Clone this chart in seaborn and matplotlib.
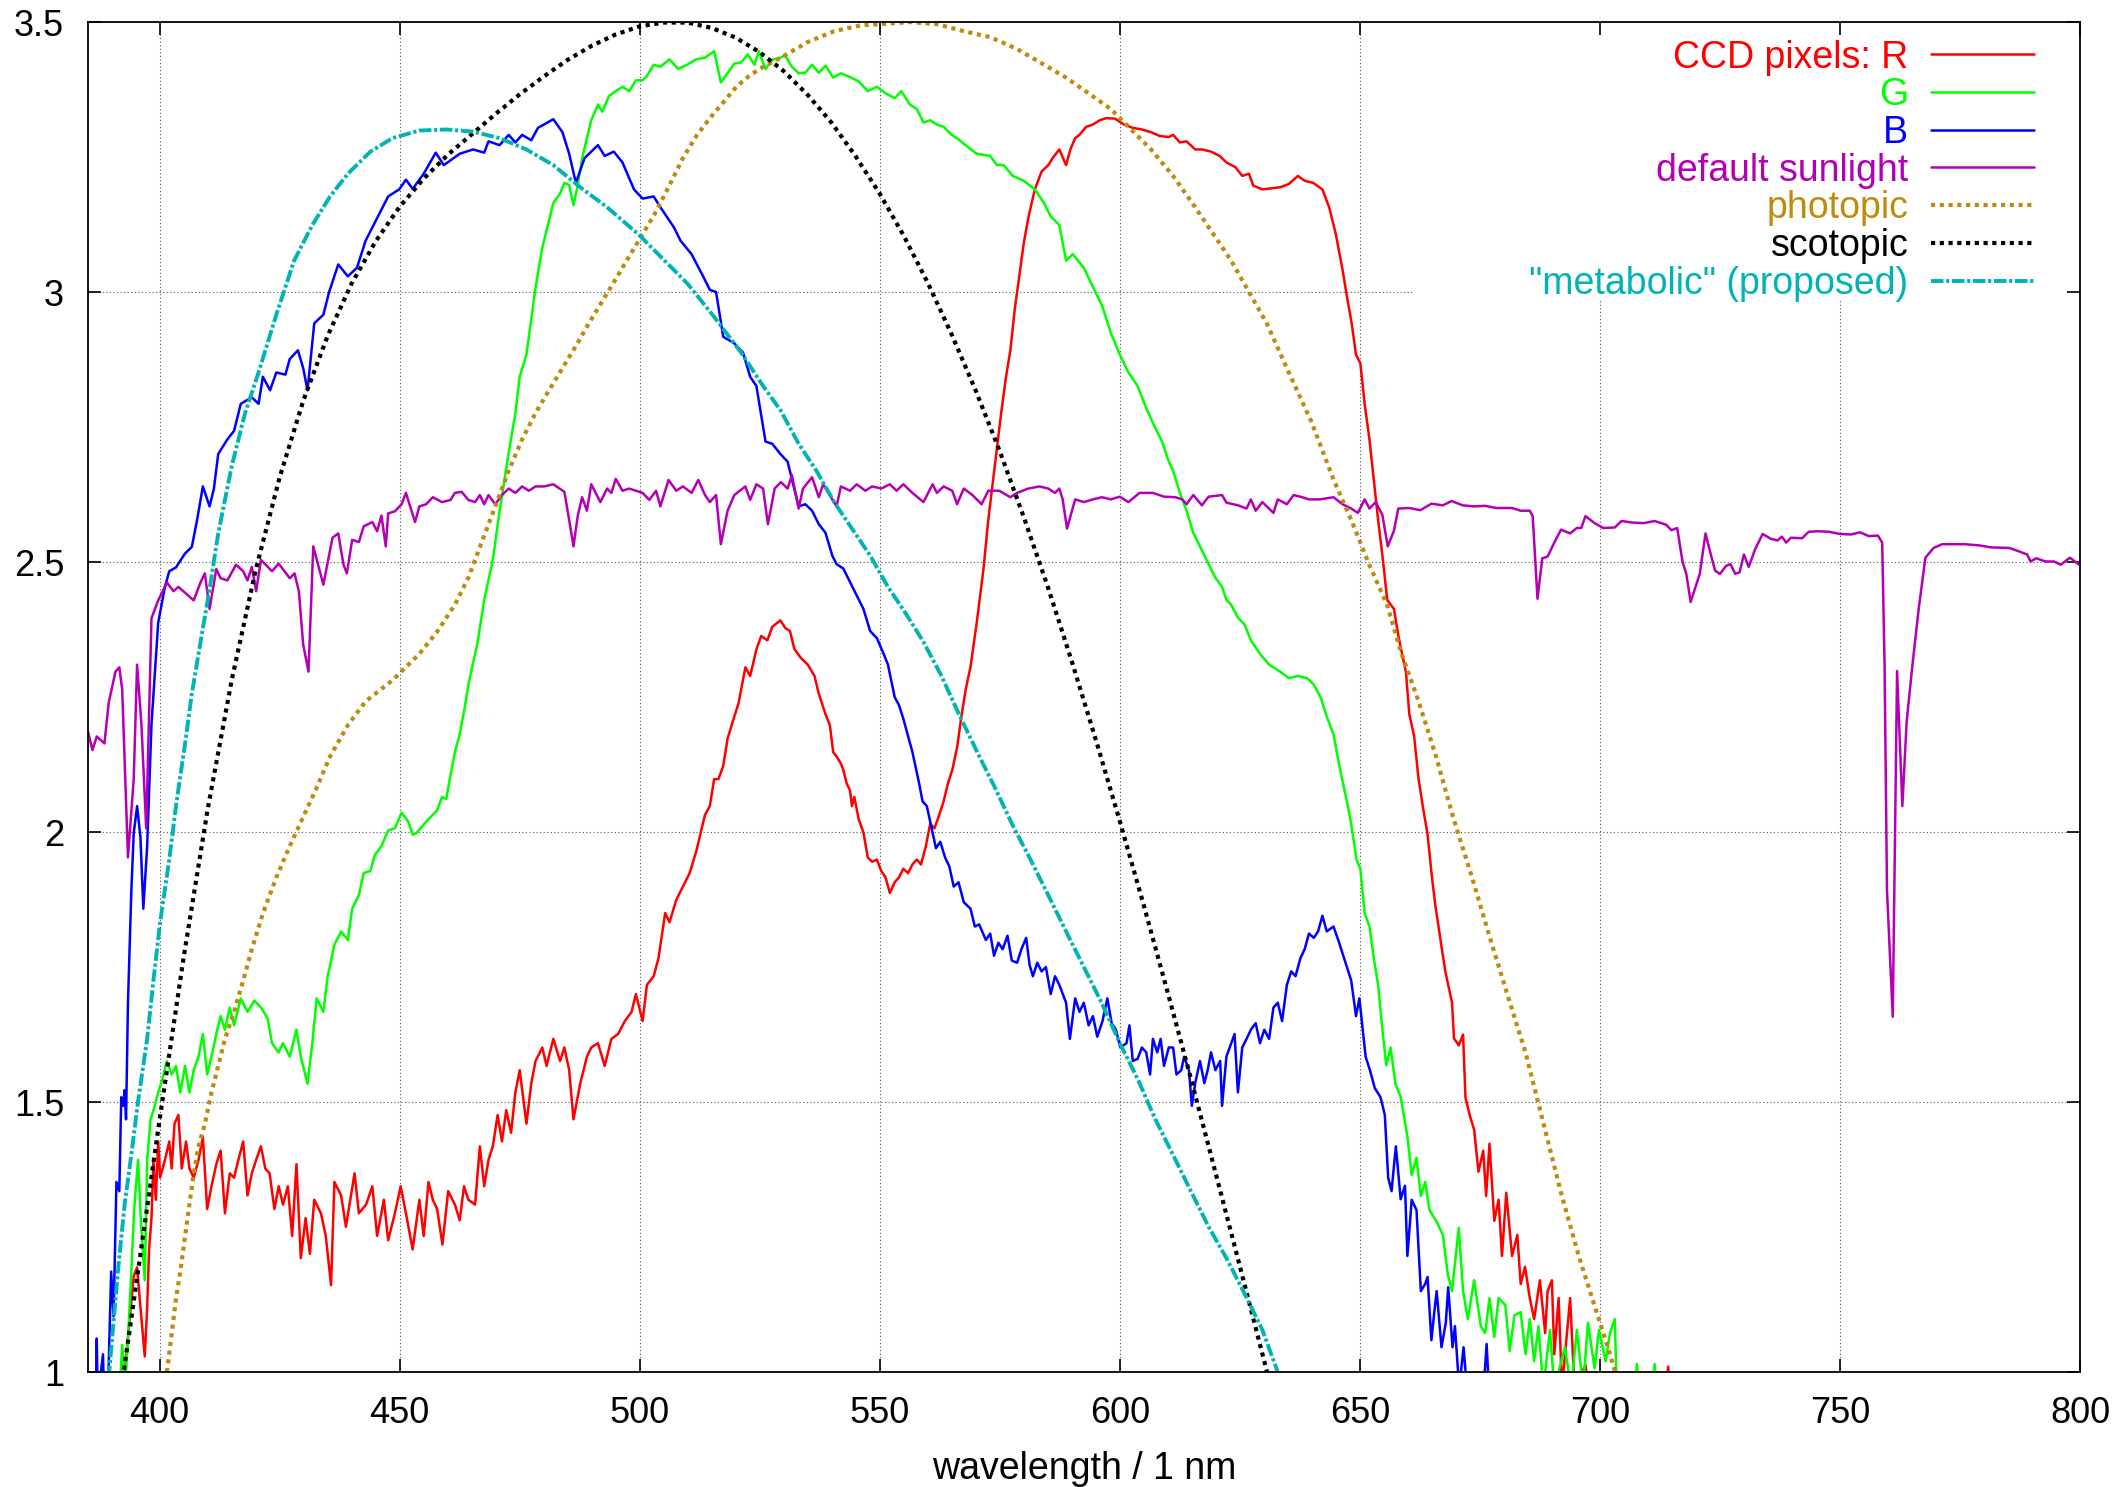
import pandas as pd
import matplotlib
matplotlib.use("Agg")
import matplotlib.pyplot as plt
import seaborn as sns

# (wavelength nm, value)
red_pts = [
    (392.2, 0.95), (393.2, 1.045), (393.8, 1.103), (394.6, 1.178), (395.3, 1.194), (396.0, 1.12),
    (396.9, 1.029), (397.4, 1.12), (397.8, 1.227), (398.3, 1.285), (398.7, 1.393), (399.2, 1.319),
    (399.7, 1.427), (400.1, 1.36), (401.1, 1.393), (402.0, 1.427), (402.5, 1.377), (403.1, 1.46),
    (403.9, 1.476), (404.6, 1.377), (405.5, 1.427), (406.2, 1.377), (407.1, 1.36), (408.1, 1.393),
    (409.0, 1.435), (409.9, 1.302), (410.8, 1.344), (411.8, 1.385), (412.7, 1.41), (413.6, 1.294),
    (414.6, 1.368), (415.5, 1.36), (416.4, 1.393), (417.4, 1.427), (418.3, 1.327), (419.2, 1.368),
    (420.1, 1.393), (421.1, 1.418), (422.0, 1.377), (422.9, 1.368), (423.9, 1.302), (424.8, 1.344),
    (425.7, 1.31), (426.7, 1.344), (427.6, 1.252), (428.5, 1.385), (429.4, 1.211), (430.4, 1.285),
    (431.3, 1.219), (432.2, 1.319), (433.6, 1.294), (434.6, 1.252), (435.7, 1.161), (436.4, 1.352),
    (437.8, 1.327), (438.8, 1.269), (439.7, 1.319), (440.6, 1.368), (441.5, 1.294), (443.0, 1.31),
    (444.3, 1.344), (445.3, 1.252), (446.7, 1.319), (447.6, 1.244), (449.0, 1.294), (450.2, 1.344),
    (451.3, 1.294), (452.7, 1.227), (454.1, 1.319), (455.0, 1.252), (456.0, 1.352), (456.9, 1.319),
    (457.8, 1.302), (458.9, 1.236), (460.1, 1.335), (461.5, 1.31), (462.5, 1.281), (463.4, 1.344),
    (464.3, 1.319), (465.7, 1.31), (466.7, 1.418), (467.6, 1.344), (468.5, 1.393), (469.4, 1.418),
    (470.4, 1.476), (471.3, 1.427), (472.2, 1.485), (473.2, 1.443), (474.1, 1.518), (475.0, 1.559),
    (476.4, 1.46), (477.4, 1.534), (478.3, 1.576), (479.7, 1.601), (480.6, 1.567), (482.0, 1.617),
    (483.4, 1.576), (484.3, 1.601), (485.3, 1.559), (486.2, 1.468), (487.6, 1.534), (489.0, 1.584),
    (489.9, 1.601), (491.3, 1.609), (492.7, 1.567), (494.1, 1.617), (495.5, 1.626), (496.9, 1.65),
    (498.3, 1.667), (499.2, 1.7), (500.6, 1.65), (501.5, 1.717), (502.9, 1.733), (503.9, 1.766),
    (505.3, 1.85), (506.2, 1.833), (507.6, 1.874), (509.0, 1.899), (510.4, 1.924), (511.8, 1.965),
    (512.7, 1.999), (513.6, 2.032), (514.6, 2.048), (515.5, 2.098), (516.4, 2.098), (517.4, 2.123),
    (518.3, 2.173), (519.7, 2.214), (520.6, 2.239), (522.0, 2.305), (523.0, 2.289), (524.3, 2.338),
    (525.3, 2.363), (526.6, 2.355), (527.6, 2.38), (529.3, 2.392), (530.3, 2.378), (531.3, 2.372),
    (532.2, 2.339), (533.6, 2.322), (535.0, 2.31), (536.4, 2.289), (537.3, 2.256), (538.7, 2.218),
    (539.6, 2.198), (540.3, 2.148), (541.0, 2.14), (541.9, 2.127), (542.4, 2.115), (543.1, 2.09),
    (543.8, 2.077), (544.2, 2.048), (544.7, 2.065), (545.6, 2.024), (546.6, 1.999), (547.5, 1.953),
    (548.4, 1.945), (549.4, 1.949), (550.3, 1.928), (551.2, 1.916), (552.1, 1.887), (553.1, 1.907),
    (554.0, 1.916), (554.9, 1.932), (555.9, 1.924), (556.8, 1.94), (557.7, 1.949), (558.6, 1.94),
    (559.6, 1.974), (560.5, 2.015), (561.4, 2.007), (562.4, 2.032), (563.3, 2.057), (564.2, 2.09),
    (565.1, 2.115), (566.1, 2.156), (567.0, 2.214), (567.9, 2.264), (568.9, 2.306), (570.2, 2.388),
    (571.6, 2.487), (572.6, 2.578), (573.5, 2.644), (574.4, 2.71), (575.3, 2.777), (576.3, 2.843),
    (577.2, 2.892), (578.1, 2.967), (579.1, 3.033), (580.0, 3.091), (581.0, 3.14), (582.3, 3.19),
    (583.7, 3.223), (585.1, 3.235), (586.0, 3.248), (587.4, 3.264), (588.8, 3.235), (589.7, 3.264),
    (590.7, 3.285), (591.6, 3.291), (593.0, 3.306), (594.4, 3.31), (595.8, 3.318), (597.2, 3.322),
    (599.0, 3.321), (600.9, 3.31), (602.7, 3.304), (604.6, 3.301), (606.5, 3.296), (608.3, 3.289),
    (610.2, 3.287), (611.1, 3.291), (612.5, 3.277), (613.9, 3.279), (615.7, 3.264), (617.1, 3.264),
    (619.0, 3.26), (620.8, 3.252), (622.2, 3.24), (624.1, 3.231), (625.5, 3.215), (626.9, 3.219),
    (627.8, 3.197), (629.7, 3.19), (631.5, 3.192), (633.4, 3.194), (635.2, 3.2), (637.1, 3.215),
    (638.5, 3.206), (640.3, 3.202), (642.2, 3.19), (643.6, 3.157), (645.0, 3.107), (646.4, 3.041),
    (647.3, 2.992), (648.3, 2.942), (649.2, 2.884), (650.1, 2.868), (651.0, 2.793), (652.0, 2.727),
    (652.9, 2.653), (653.8, 2.578), (654.7, 2.512), (655.7, 2.43), (657.1, 2.413), (658.0, 2.364),
    (659.0, 2.322), (659.6, 2.296), (660.3, 2.218), (661.3, 2.178), (662.2, 2.10), (663.1, 2.048),
    (664.1, 1.996), (665.0, 1.918), (665.7, 1.866), (666.8, 1.80), (667.8, 1.742), (669.2, 1.684),
    (669.6, 1.618), (670.6, 1.605), (671.5, 1.625), (672.0, 1.508), (672.9, 1.475), (673.8, 1.449),
    (674.7, 1.371), (675.7, 1.41), (676.3, 1.326), (677.0, 1.423), (678.0, 1.28), (678.9, 1.319),
    (679.6, 1.215), (680.5, 1.332), (681.7, 1.215), (682.8, 1.254), (683.5, 1.163), (684.4, 1.195),
    (685.4, 1.137), (686.3, 1.098), (687.5, 1.17), (688.6, 1.072), (689.1, 1.15), (690.0, 1.17),
    (690.5, 1.033), (691.4, 1.137), (692.1, 0.97), (693.8, 1.137), (694.7, 0.97), (697.0, 1.013),
    (698.0, 0.95), (713.6, 0.95), (714.2, 1.01), (714.8, 0.95),
]

green_pts = [
    (391.6, 0.95), (392.2, 1.05), (392.8, 0.97), (393.4, 1.062), (394.1, 1.186), (394.7, 1.302),
    (395.5, 1.393), (396.1, 1.277), (396.9, 1.17), (397.4, 1.393), (398.1, 1.468), (398.7, 1.484),
    (399.7, 1.518), (400.6, 1.543), (401.5, 1.576), (402.5, 1.551), (403.4, 1.567), (404.3, 1.518),
    (405.3, 1.567), (406.2, 1.518), (407.1, 1.559), (408.1, 1.584), (409.0, 1.626), (409.9, 1.551),
    (410.8, 1.584), (411.8, 1.626), (412.7, 1.659), (413.6, 1.634), (414.6, 1.675), (415.5, 1.642),
    (416.9, 1.692), (418.3, 1.667), (419.7, 1.688), (421.1, 1.675), (422.5, 1.655), (423.4, 1.609),
    (424.8, 1.592), (425.7, 1.609), (427.1, 1.584), (428.5, 1.634), (429.4, 1.584), (430.8, 1.534),
    (431.8, 1.609), (432.7, 1.692), (434.1, 1.667), (435.0, 1.733), (436.4, 1.791), (437.8, 1.816),
    (439.2, 1.8), (440.1, 1.858), (441.5, 1.883), (442.5, 1.924), (443.9, 1.928), (444.8, 1.957),
    (446.2, 1.974), (447.6, 2.003), (449.0, 2.007), (450.4, 2.036), (451.8, 2.019), (452.7, 1.995),
    (453.6, 1.999), (455.5, 2.019), (456.9, 2.032), (457.8, 2.04), (458.8, 2.065), (459.7, 2.061),
    (460.6, 2.106), (461.5, 2.148), (462.5, 2.181), (463.4, 2.223), (464.3, 2.272), (465.3, 2.314),
    (466.2, 2.35), (467.6, 2.43), (469.4, 2.504), (470.8, 2.594), (472.7, 2.702), (474.1, 2.776),
    (475.0, 2.843), (476.4, 2.884), (478.3, 3.008), (479.7, 3.082), (481.1, 3.132), (482.0, 3.165),
    (483.4, 3.182), (484.3, 3.202), (485.3, 3.198), (486.2, 3.161), (487.1, 3.198), (488.0, 3.248),
    (489.0, 3.285), (489.9, 3.318), (491.3, 3.347), (492.2, 3.334), (493.6, 3.363), (495.0, 3.372),
    (496.4, 3.38), (497.8, 3.372), (499.2, 3.392), (500.6, 3.392), (501.5, 3.4), (502.9, 3.421),
    (504.3, 3.417), (506.2, 3.431), (508.0, 3.413), (509.9, 3.421), (511.8, 3.431), (513.6, 3.434),
    (515.5, 3.446), (516.9, 3.388), (518.3, 3.405), (519.7, 3.423), (521.1, 3.425), (522.5, 3.44),
    (523.9, 3.421), (524.8, 3.446), (526.2, 3.413), (527.6, 3.43), (529.3, 3.434), (530.3, 3.438),
    (531.7, 3.417), (533.1, 3.405), (534.5, 3.406), (535.9, 3.421), (537.3, 3.406), (538.7, 3.419),
    (540.3, 3.397), (541.9, 3.405), (543.8, 3.398), (545.6, 3.39), (547.5, 3.372), (549.4, 3.38),
    (551.2, 3.368), (553.1, 3.359), (554.5, 3.372), (556.3, 3.347), (557.7, 3.339), (559.1, 3.314),
    (560.5, 3.318), (561.9, 3.31), (563.3, 3.306), (564.7, 3.293), (566.5, 3.282), (568.4, 3.268),
    (570.2, 3.256), (573.0, 3.252), (574.4, 3.235), (575.8, 3.235), (577.7, 3.215), (580.0, 3.206),
    (582.3, 3.19), (584.2, 3.165), (585.6, 3.14), (587.4, 3.124), (588.8, 3.058), (590.2, 3.07),
    (592.5, 3.045), (594.9, 3.0), (596.3, 2.975), (598.1, 2.925), (600.0, 2.884), (601.8, 2.851),
    (603.7, 2.826), (605.5, 2.785), (607.4, 2.748), (608.8, 2.723), (610.2, 2.686), (611.1, 2.669),
    (612.5, 2.628), (613.9, 2.595), (615.3, 2.554), (616.7, 2.529), (618.5, 2.496), (619.9, 2.471),
    (621.3, 2.454), (622.2, 2.43), (623.2, 2.421), (624.6, 2.397), (626.0, 2.384), (627.3, 2.355),
    (629.2, 2.33), (631.1, 2.31), (633.4, 2.297), (635.2, 2.285), (637.1, 2.289), (639.0, 2.285),
    (640.4, 2.273), (641.8, 2.25), (643.1, 2.214), (644.5, 2.181), (645.9, 2.115), (647.3, 2.057),
    (648.2, 2.015), (649.3, 1.949), (650.1, 1.932), (651.0, 1.85), (652.0, 1.825), (652.9, 1.767),
    (653.8, 1.717), (654.7, 1.634), (655.5, 1.568), (656.4, 1.601), (657.4, 1.534), (658.5, 1.51),
    (659.9, 1.436), (660.8, 1.365), (661.8, 1.397), (662.7, 1.326), (663.6, 1.352), (664.5, 1.30),
    (665.9, 1.28), (667.3, 1.254), (668.3, 1.182), (669.2, 1.15), (670.6, 1.267), (671.5, 1.15),
    (672.5, 1.098), (673.8, 1.17), (675.2, 1.085), (676.1, 1.072), (677.0, 1.137), (678.0, 1.065),
    (678.9, 1.137), (680.3, 1.124), (681.2, 1.039), (682.2, 1.105), (683.5, 1.111), (684.5, 1.033),
    (685.4, 1.098), (686.3, 1.02), (687.2, 1.085), (688.2, 0.97), (689.6, 1.078), (690.5, 0.97),
    (692.7, 1.046), (694.0, 0.97), (695.2, 1.078), (696.5, 0.97), (697.5, 1.091), (698.9, 1.007),
    (699.8, 1.078), (701.2, 1.02), (702.1, 1.072), (703.1, 1.098), (703.5, 0.97), (707.2, 0.97),
    (707.7, 1.015), (708.2, 0.97), (711.0, 0.97), (711.4, 1.015), (711.9, 0.97),
]

blue_pts = [
    (386.7, 0.95), (386.9, 1.062), (387.1, 0.95), (388.2, 1.033), (388.4, 0.95), (389.2, 0.95),
    (389.9, 1.186), (390.4, 1.103), (391.0, 1.352), (391.6, 1.335), (392.0, 1.509), (392.4, 1.493),
    (392.7, 1.522), (393.0, 1.468), (393.4, 1.684), (394.1, 1.891), (394.6, 1.998), (395.3, 2.048),
    (396.0, 1.99), (396.6, 1.858), (397.4, 1.974), (398.3, 2.20), (399.7, 2.388), (401.1, 2.454),
    (402.0, 2.483), (403.4, 2.49), (405.3, 2.516), (406.7, 2.528), (407.8, 2.578), (409.0, 2.64),
    (410.4, 2.603), (411.3, 2.636), (412.2, 2.70), (414.1, 2.727), (415.5, 2.743), (416.9, 2.793),
    (419.2, 2.805), (420.6, 2.793), (421.5, 2.843), (423.0, 2.818), (424.3, 2.851), (426.2, 2.847),
    (427.1, 2.876), (428.8, 2.892), (429.9, 2.859), (430.8, 2.818), (432.2, 2.942), (434.1, 2.958),
    (435.3, 3.0), (437.2, 3.051), (439.2, 3.029), (441.1, 3.045), (442.9, 3.095), (444.8, 3.128),
    (447.6, 3.177), (449.9, 3.19), (451.3, 3.208), (452.7, 3.191), (455.0, 3.219), (457.5, 3.258),
    (459.2, 3.235), (462.5, 3.256), (465.3, 3.264), (467.6, 3.258), (468.5, 3.279), (470.8, 3.272),
    (472.7, 3.291), (474.1, 3.277), (475.5, 3.291), (477.4, 3.281), (478.8, 3.304), (482.0, 3.32),
    (483.9, 3.296), (485.3, 3.256), (486.7, 3.202), (488.5, 3.248), (491.3, 3.272), (492.7, 3.252),
    (494.6, 3.26), (496.4, 3.24), (498.8, 3.19), (500.6, 3.173), (502.9, 3.177), (504.3, 3.157),
    (507.1, 3.12), (508.5, 3.095), (510.8, 3.07), (513.2, 3.029), (514.6, 3.004), (515.9, 3.0),
    (517.4, 2.917), (519.7, 2.905), (521.5, 2.888), (523.0, 2.843), (524.3, 2.826), (526.2, 2.723),
    (527.6, 2.719), (529.3, 2.70), (530.8, 2.686), (531.7, 2.653), (533.1, 2.603), (534.5, 2.607),
    (535.9, 2.595), (537.3, 2.57), (538.7, 2.554), (540.1, 2.512), (541.0, 2.496), (542.4, 2.488),
    (543.8, 2.463), (545.2, 2.438), (546.6, 2.413), (548.0, 2.372), (549.4, 2.359), (550.8, 2.33),
    (551.7, 2.31), (553.1, 2.25), (554.0, 2.235), (554.9, 2.21), (555.9, 2.177), (556.8, 2.148),
    (557.7, 2.111), (558.2, 2.09), (558.9, 2.057), (559.8, 2.048), (560.8, 2.007), (561.7, 1.97),
    (562.6, 1.982), (563.6, 1.953), (564.5, 1.936), (565.4, 1.899), (566.4, 1.907), (567.5, 1.87),
    (568.9, 1.858), (569.8, 1.825), (570.7, 1.829), (572.1, 1.8), (573.0, 1.812), (573.8, 1.771),
    (574.7, 1.795), (575.6, 1.783), (576.6, 1.808), (577.5, 1.762), (578.6, 1.758), (579.5, 1.783),
    (580.5, 1.804), (581.2, 1.754), (581.9, 1.733), (582.8, 1.758), (583.7, 1.742), (584.6, 1.75),
    (585.6, 1.7), (586.5, 1.733), (587.4, 1.717), (588.8, 1.684), (589.6, 1.617), (590.7, 1.692),
    (591.6, 1.667), (592.5, 1.684), (593.5, 1.642), (594.4, 1.659), (595.3, 1.621), (596.4, 1.65),
    (597.4, 1.692), (598.3, 1.646), (599.2, 1.634), (600.1, 1.601), (601.4, 1.609), (602.0, 1.642),
    (602.7, 1.576), (603.7, 1.58), (604.6, 1.601), (605.5, 1.592), (606.3, 1.551), (606.9, 1.617),
    (607.8, 1.592), (608.5, 1.617), (609.2, 1.567), (610.2, 1.601), (611.1, 1.601), (611.8, 1.551),
    (612.8, 1.559), (613.4, 1.584), (614.4, 1.559), (615.0, 1.493), (615.7, 1.535), (616.7, 1.576),
    (617.6, 1.535), (618.3, 1.559), (619.0, 1.592), (619.9, 1.559), (620.9, 1.576), (621.3, 1.493),
    (622.2, 1.584), (623.2, 1.609), (623.9, 1.626), (624.6, 1.518), (625.5, 1.601), (626.4, 1.617),
    (627.3, 1.634), (628.3, 1.646), (629.2, 1.609), (630.1, 1.634), (631.1, 1.617), (632.0, 1.675),
    (632.9, 1.684), (633.8, 1.65), (634.8, 1.717), (635.7, 1.742), (636.6, 1.733), (637.6, 1.766),
    (638.5, 1.783), (639.4, 1.812), (640.4, 1.804), (641.3, 1.816), (642.2, 1.845), (643.1, 1.816),
    (644.5, 1.825), (645.5, 1.8), (646.4, 1.775), (647.3, 1.75), (648.2, 1.725), (649.2, 1.659),
    (649.9, 1.692), (650.6, 1.634), (651.2, 1.584), (652.1, 1.559), (653.1, 1.526), (654.3, 1.509),
    (655.2, 1.476), (655.9, 1.36), (656.6, 1.335), (657.5, 1.418), (658.5, 1.32), (659.4, 1.345),
    (659.9, 1.215), (660.8, 1.319), (661.8, 1.30), (662.7, 1.15), (663.6, 1.163), (664.1, 1.176),
    (664.9, 1.059), (665.5, 1.111), (666.0, 1.15), (667.0, 1.046), (667.9, 1.091), (668.4, 1.157),
    (669.3, 1.046), (669.8, 1.085), (670.7, 0.97), (671.6, 1.046), (672.3, 0.97), (675.8, 0.97),
    (676.4, 1.052), (676.9, 0.97),
]

sunlight_pts = [
    (385.1, 2.185), (386.0, 2.152), (386.9, 2.177), (388.5, 2.164), (389.4, 2.24), (390.8, 2.297),
    (391.6, 2.305), (392.2, 2.264), (393.4, 1.953), (394.6, 2.098), (395.3, 2.31), (396.2, 2.20),
    (397.2, 2.007), (398.3, 2.396), (399.7, 2.429), (401.5, 2.462), (402.9, 2.446), (403.9, 2.454),
    (407.1, 2.429), (408.5, 2.462), (409.4, 2.479), (410.4, 2.413), (411.8, 2.487), (412.7, 2.47),
    (414.1, 2.466), (415.9, 2.495), (417.4, 2.483), (418.3, 2.466), (419.2, 2.491), (420.1, 2.446),
    (421.1, 2.504), (423.4, 2.483), (424.8, 2.497), (427.1, 2.47), (428.1, 2.479), (429.0, 2.446),
    (429.9, 2.347), (431.0, 2.297), (432.0, 2.529), (434.1, 2.458), (436.0, 2.545), (437.2, 2.553),
    (438.3, 2.495), (439.0, 2.479), (440.1, 2.541), (441.5, 2.537), (442.5, 2.566), (444.3, 2.574),
    (445.3, 2.557), (446.2, 2.586), (447.1, 2.529), (447.6, 2.59), (449.0, 2.594), (450.4, 2.607),
    (451.3, 2.628), (453.2, 2.574), (454.1, 2.603), (455.5, 2.607), (456.9, 2.62), (458.8, 2.611),
    (460.6, 2.615), (461.5, 2.628), (462.9, 2.63), (464.3, 2.615), (465.7, 2.611), (466.7, 2.624),
    (467.6, 2.607), (468.5, 2.624), (469.9, 2.607), (471.3, 2.624), (472.7, 2.636), (474.1, 2.628),
    (475.5, 2.64), (476.9, 2.632), (478.3, 2.64), (480.1, 2.64), (482.0, 2.644), (484.3, 2.63),
    (485.3, 2.578), (486.2, 2.529), (487.1, 2.586), (488.0, 2.62), (489.0, 2.595), (489.9, 2.644),
    (491.8, 2.611), (493.2, 2.636), (494.1, 2.628), (495.0, 2.654), (496.4, 2.632), (497.8, 2.636),
    (500.6, 2.628), (502.0, 2.615), (503.4, 2.632), (504.3, 2.603), (506.0, 2.652), (507.6, 2.632),
    (509.0, 2.64), (510.8, 2.628), (512.2, 2.652), (513.6, 2.624), (514.6, 2.611), (515.9, 2.624),
    (516.9, 2.533), (518.3, 2.595), (519.7, 2.624), (522.0, 2.64), (523.0, 2.615), (524.3, 2.644),
    (525.7, 2.636), (526.7, 2.57), (528.1, 2.636), (529.4, 2.648), (530.8, 2.636), (531.7, 2.661),
    (533.1, 2.599), (534.0, 2.636), (535.9, 2.657), (537.3, 2.62), (538.2, 2.644), (541.0, 2.603),
    (541.9, 2.64), (543.8, 2.632), (545.2, 2.644), (547.0, 2.632), (548.4, 2.64), (550.3, 2.636),
    (552.1, 2.644), (553.5, 2.632), (554.9, 2.644), (556.8, 2.628), (559.1, 2.611), (561.0, 2.644),
    (561.9, 2.628), (563.3, 2.64), (565.1, 2.632), (566.1, 2.607), (567.5, 2.636), (569.3, 2.624),
    (571.2, 2.607), (572.6, 2.632), (574.9, 2.632), (577.2, 2.62), (578.6, 2.628), (580.9, 2.636),
    (583.3, 2.64), (585.1, 2.636), (586.5, 2.628), (587.4, 2.636), (588.1, 2.616), (589.0, 2.562),
    (590.7, 2.616), (592.5, 2.611), (594.4, 2.616), (596.3, 2.62), (598.1, 2.616), (600.0, 2.621),
    (601.8, 2.611), (604.1, 2.628), (606.9, 2.628), (609.2, 2.621), (611.6, 2.62), (613.0, 2.616),
    (613.9, 2.607), (615.3, 2.624), (617.1, 2.605), (618.5, 2.621), (621.3, 2.624), (622.2, 2.61),
    (624.6, 2.605), (626.4, 2.599), (627.3, 2.616), (628.3, 2.595), (629.7, 2.611), (630.6, 2.603),
    (632.0, 2.591), (632.9, 2.616), (634.8, 2.607), (636.2, 2.624), (637.6, 2.621), (639.4, 2.616),
    (641.7, 2.616), (644.5, 2.62), (646.4, 2.607), (648.2, 2.599), (649.6, 2.591), (651.0, 2.616),
    (652.0, 2.599), (653.3, 2.611), (654.7, 2.587), (655.8, 2.529), (657.1, 2.558), (658.0, 2.599),
    (660.3, 2.60), (662.6, 2.596), (664.9, 2.608), (667.3, 2.605), (669.1, 2.613), (671.4, 2.605),
    (673.8, 2.603), (676.1, 2.604), (678.4, 2.60), (681.7, 2.60), (683.5, 2.595), (685.4, 2.595),
    (686.0, 2.585), (687.0, 2.432), (688.0, 2.507), (689.1, 2.51), (690.5, 2.536), (691.9, 2.56),
    (693.8, 2.553), (695.2, 2.563), (696.1, 2.563), (697.0, 2.585), (698.9, 2.572), (700.7, 2.563),
    (703.1, 2.564), (704.5, 2.576), (706.8, 2.573), (709.1, 2.572), (711.4, 2.576), (713.8, 2.569),
    (714.9, 2.559), (716.1, 2.563), (717.2, 2.501), (718.0, 2.478), (718.9, 2.426), (720.8, 2.478),
    (722.0, 2.553), (723.1, 2.514), (724.0, 2.484), (725.0, 2.478), (726.3, 2.493), (727.2, 2.496),
    (728.2, 2.478), (729.1, 2.481), (730.0, 2.514), (731.0, 2.491), (732.3, 2.523), (733.9, 2.552),
    (735.6, 2.543), (737.0, 2.54), (737.9, 2.547), (738.8, 2.536), (739.8, 2.545), (742.1, 2.544),
    (743.5, 2.556), (745.4, 2.557), (747.7, 2.556), (750.0, 2.552), (752.3, 2.551), (754.2, 2.555),
    (756.0, 2.548), (757.9, 2.549), (758.8, 2.536), (759.3, 2.309), (759.8, 1.892), (761.0, 1.658),
    (761.9, 2.298), (763.0, 2.048), (763.9, 2.205), (765.1, 2.309), (766.4, 2.413), (767.8, 2.508),
    (769.5, 2.526), (771.3, 2.533), (776.0, 2.533), (778.8, 2.531), (781.6, 2.527), (785.3, 2.526),
    (787.2, 2.52), (789.0, 2.514), (789.7, 2.501), (790.9, 2.507), (792.8, 2.501), (794.6, 2.501),
    (796.0, 2.495), (797.9, 2.508), (799.7, 2.496), (800.5, 2.49),
]

photopic_pts = [
    (401.5, 1.0), (402.5, 1.07), (403.4, 1.136), (404.3, 1.186), (405.3, 1.252), (406.2, 1.31),
    (407.1, 1.368), (408.1, 1.418), (409.4, 1.459), (410.8, 1.518), (412.2, 1.567), (413.6, 1.617),
    (415.5, 1.667), (417.4, 1.725), (419.2, 1.783), (421.5, 1.849), (424.3, 1.916), (427.1, 1.974),
    (429.9, 2.028), (432.7, 2.082), (435.5, 2.14), (439.2, 2.198), (442.9, 2.242), (448.5, 2.281),
    (454.1, 2.33), (457.8, 2.371), (461.5, 2.421), (464.3, 2.471), (467.1, 2.537), (469.9, 2.603),
    (472.7, 2.669), (475.5, 2.727), (478.3, 2.776), (481.1, 2.818), (483.9, 2.859), (486.7, 2.9),
    (489.4, 2.942), (492.2, 2.983), (495.0, 3.024), (497.8, 3.066), (500.6, 3.107), (503.4, 3.149),
    (506.2, 3.198), (509.0, 3.248), (511.8, 3.289), (514.6, 3.322), (517.4, 3.351), (520.1, 3.38),
    (522.9, 3.401), (525.7, 3.417), (529.4, 3.434), (535.0, 3.463), (540.5, 3.483), (546.1, 3.494),
    (551.7, 3.497), (556.3, 3.5), (561.9, 3.496), (567.5, 3.483), (573.0, 3.472), (578.6, 3.45),
    (584.2, 3.421), (588.8, 3.397), (593.5, 3.368), (598.1, 3.339), (601.8, 3.306), (606.5, 3.264),
    (611.1, 3.215), (615.7, 3.157), (619.5, 3.107), (623.2, 3.058), (626.9, 3.0), (630.6, 2.942),
    (635.2, 2.851), (639.9, 2.76), (644.5, 2.653), (648.2, 2.578), (651.9, 2.496), (655.7, 2.42),
    (658.5, 2.335), (662.2, 2.243), (665.9, 2.139), (669.6, 2.022), (673.3, 1.918), (677.0, 1.807),
    (680.8, 1.697), (684.5, 1.592), (688.2, 1.462), (691.9, 1.332), (695.6, 1.215), (699.3, 1.111),
    (702.1, 1.033), (703.5, 0.99),
]

scotopic_pts = [
    (390, 0.844), (395, 1.156), (400, 1.468), (405, 1.768), (410, 2.042), (415, 2.281),
    (420, 2.485), (425, 2.657), (430, 2.801), (435, 2.919), (440, 3.016), (445, 3.094),
    (450, 3.158), (455, 3.210), (460, 3.254), (465, 3.292), (470, 3.330), (475, 3.366),
    (480, 3.399), (485, 3.430), (490, 3.456), (495, 3.477), (500, 3.492), (505, 3.499),
    (510, 3.499), (515, 3.489), (520, 3.471), (525, 3.444), (530, 3.409), (535, 3.365),
    (540, 3.313), (545, 3.251), (550, 3.182), (555, 3.104), (560, 3.017), (565, 2.921),
    (570, 2.817), (575, 2.705), (580, 2.583), (585, 2.454), (590, 2.316), (595, 2.171),
    (600, 2.020), (605, 1.864), (610, 1.702), (615, 1.537), (620, 1.367), (625, 1.196),
    (630, 1.023), (635, 0.849),
]

metabolic_pts = [
    (389.0, 0.95), (391.3, 1.186), (392.7, 1.31), (394.1, 1.402), (395.5, 1.501), (397.4, 1.617),
    (398.7, 1.725), (400.1, 1.833), (402.0, 1.949), (403.4, 2.048), (405.3, 2.164), (406.7, 2.256),
    (408.1, 2.33), (410.4, 2.45), (412.2, 2.553), (415.0, 2.677), (417.8, 2.776), (420.6, 2.851),
    (424.3, 2.958), (428.0, 3.058), (431.8, 3.124), (435.5, 3.177), (439.2, 3.219), (443.9, 3.26),
    (448.5, 3.285), (454.1, 3.299), (459.7, 3.301), (465.3, 3.297), (470.8, 3.285), (476.4, 3.264),
    (482.0, 3.235), (487.6, 3.194), (493.2, 3.157), (499.7, 3.107), (504.3, 3.066), (509.9, 3.016),
    (515.5, 2.954), (521.1, 2.888), (525.7, 2.826), (529.4, 2.78), (533.1, 2.719), (536.8, 2.669),
    (540.5, 2.611), (544.2, 2.562), (548.0, 2.512), (551.7, 2.454), (555.4, 2.405), (559.1, 2.352),
    (562.8, 2.29), (566.5, 2.218), (570.3, 2.148), (574.0, 2.082), (577.7, 2.012), (581.4, 1.949),
    (585.1, 1.883), (588.8, 1.816), (592.5, 1.75), (596.2, 1.684), (600.0, 1.609), (603.7, 1.543),
    (607.4, 1.468), (611.1, 1.402), (614.8, 1.335), (618.5, 1.269), (622.2, 1.211), (626.0, 1.145),
    (629.7, 1.078), (632.9, 1.0), (634.0, 0.98),
]

labels = ["CCD pixels: R", "G", "B", "default sunlight", "photopic", "scotopic",
          "\"metabolic\" (proposed)"]
colors = ["#ff0000", "#00ff00", "#0000ff", "#b400b4", "#bf8a0e", "#000000", "#00b4b4"]

x_ticks = [400, 450, 500, 550, 600, 650, 700, 750, 800]
y_ticks = [1, 1.5, 2, 2.5, 3, 3.5]
y_tick_labels = ["1", "1.5", "2", "2.5", "3", "3.5"]

sns.set_theme(style="white")
plt.rcParams["font.family"] = ["Liberation Sans", "DejaVu Sans"]

fig = plt.figure(figsize=(21.22, 14.87), dpi=100)
ax = fig.add_axes([0.0413, 0.0773, 0.9389, 0.9079])

all_pts = [red_pts, green_pts, blue_pts, sunlight_pts, photopic_pts, scotopic_pts, metabolic_pts]
widths = [1.8, 1.8, 1.8, 1.8, 3.0, 3.0, 2.8]
dash_list = [None, None, None, None, (1.0, 1.1), (1.0, 1.1), (3.2, 0.7, 0.8, 0.7)]

for pts, label, color, lw, dashes in zip(all_pts, labels, colors, widths, dash_list):
    df = pd.DataFrame(pts, columns=["nm", "value"])
    sns.lineplot(data=df, x="nm", y="value", ax=ax, color=color, linewidth=lw,
                 label=label, estimator=None, sort=False)
    line = ax.lines[-1]
    if dashes is not None:
        line.set_dashes(dashes)
        line.set_dash_capstyle("butt")

ax.set_xlim(385, 800)
ax.set_ylim(1, 3.5)
ax.set_xticks(x_ticks)
ax.set_yticks(y_ticks)
ax.set_yticklabels(y_tick_labels)

# dotted grid, kept clear of the key area in the upper right
for xv in x_ticks[:-1]:
    top = 0.794 if xv > 660 else 1.0
    ax.axvline(xv, ymax=top, color="#555555", lw=0.8, ls=(0, (1, 2.2)), zorder=0.5)
for yv in y_ticks[1:-1]:
    right = 0.6657 if yv >= 3 else 1.0
    ax.axhline(yv, xmax=right, color="#555555", lw=0.8, ls=(0, (1, 2.2)), zorder=0.5)

for side in ["left", "right", "top", "bottom"]:
    ax.spines[side].set_visible(True)
    ax.spines[side].set_color("black")
    ax.spines[side].set_linewidth(1.3)

ax.tick_params(axis="both", which="major", direction="in", length=9.4, width=1.2,
               color="black", labelcolor="black", labelsize=26,
               bottom=True, left=True, top=True, right=True)
ax.tick_params(axis="x", pad=17)
ax.tick_params(axis="y", pad=17)

ax.set_xlabel("wavelength / 1 nm", fontsize=27, labelpad=15, color="black")
ax.set_ylabel("")

ax.legend(loc="upper right", bbox_to_anchor=(0.977, 0.987), borderaxespad=0, borderpad=0,
          frameon=False, markerfirst=False, handlelength=2.75, handletextpad=0.61,
          labelspacing=0.045, labelcolor="linecolor", fontsize=27)

fig.savefig("out.png", dpi=100, facecolor="white")
